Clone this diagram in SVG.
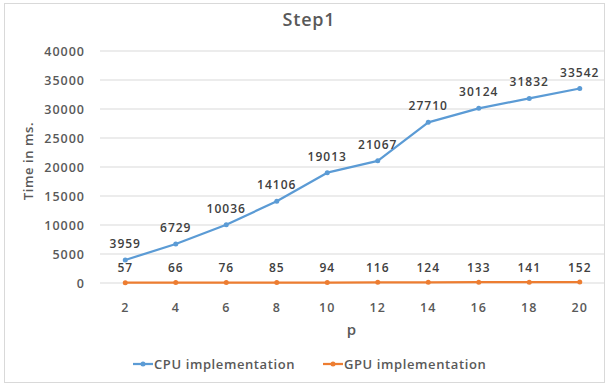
<svg xmlns="http://www.w3.org/2000/svg" width="607" height="387" viewBox="0 0 607 387">
<style>
text{font-family:"Open Sans","Liberation Sans",sans-serif;fill:#595959;letter-spacing:1px;font-weight:600}
.ax{font-size:12.5px;text-anchor:end}
.xl{font-size:12.5px;text-anchor:middle}
.dl{font-size:12px;text-anchor:middle;fill:#404040}
.lg{font-size:13px;letter-spacing:0.6px}
.grid line{stroke:#d9d9d9;stroke-width:1}
.cpu{fill:none;stroke:#5b9bd5;stroke-width:2.25;stroke-linejoin:round}
.gpu{fill:none;stroke:#ed7d31;stroke-width:2.25;stroke-linejoin:round}
.mc{fill:#5b9bd5}
.mg{fill:#ed7d31}
</style>
<rect x="0" y="0" width="607" height="387" fill="#ffffff"/>
<rect x="4.5" y="3.5" width="600" height="379" fill="#ffffff" stroke="#d9d9d9" stroke-width="1"/>
<g id="title"><text x="309" y="26" style="font-size:18px;text-anchor:middle;letter-spacing:0.8px">Step1</text></g>
<g id="grid" class="grid">
<line x1="100" y1="51" x2="604" y2="51"/>
<line x1="100" y1="80" x2="604" y2="80"/>
<line x1="100" y1="109" x2="604" y2="109"/>
<line x1="100" y1="138" x2="604" y2="138"/>
<line x1="100" y1="167" x2="604" y2="167"/>
<line x1="100" y1="196" x2="604" y2="196"/>
<line x1="100" y1="225" x2="604" y2="225"/>
<line x1="100" y1="254" x2="604" y2="254"/>
<line x1="100" y1="283" x2="604" y2="283"/>
</g>
<g id="y-axis">
<text class="ax" x="85" y="55.5">40000</text>
<text class="ax" x="85" y="84.5">35000</text>
<text class="ax" x="85" y="113.5">30000</text>
<text class="ax" x="85" y="142.5">25000</text>
<text class="ax" x="85" y="171.5">20000</text>
<text class="ax" x="85" y="200.5">15000</text>
<text class="ax" x="85" y="229.5">10000</text>
<text class="ax" x="85" y="258.5">5000</text>
<text class="ax" x="85" y="287.5">0</text>
<text x="33" y="161" transform="rotate(-90 33 161)" style="font-size:13px;text-anchor:middle;letter-spacing:0.6px">Time in ms.</text>
</g>
<g id="x-axis">
<text class="xl" x="125.25" y="312">2</text>
<text class="xl" x="175.75" y="312">4</text>
<text class="xl" x="226.25" y="312">6</text>
<text class="xl" x="276.75" y="312">8</text>
<text class="xl" x="327.25" y="312">10</text>
<text class="xl" x="377.75" y="312">12</text>
<text class="xl" x="428.25" y="312">14</text>
<text class="xl" x="478.75" y="312">16</text>
<text class="xl" x="529.25" y="312">18</text>
<text class="xl" x="579.75" y="312">20</text>
<text x="352" y="335" style="font-size:15px;text-anchor:middle">p</text>
</g>
<g id="connectors">
<polyline class="gpu" points="125.25,282.7 175.75,282.6 226.25,282.6 276.75,282.5 327.25,282.5 377.75,282.3 428.25,282.3 478.75,282.2 529.25,282.2 579.75,282.1"/>
<polyline class="cpu" points="125.25,260 175.75,244 226.25,224.8 276.75,201.2 327.25,172.7 377.75,160.8 428.25,122.3 478.75,108.3 529.25,98.4 579.75,88.5"/>
</g>
<g id="gpu-series">
<g class="mg">
<circle cx="125.25" cy="282.7" r="2.5"/><circle cx="175.75" cy="282.6" r="2.5"/><circle cx="226.25" cy="282.6" r="2.5"/><circle cx="276.75" cy="282.5" r="2.5"/><circle cx="327.25" cy="282.5" r="2.5"/><circle cx="377.75" cy="282.3" r="2.5"/><circle cx="428.25" cy="282.3" r="2.5"/><circle cx="478.75" cy="282.2" r="2.5"/><circle cx="529.25" cy="282.2" r="2.5"/><circle cx="579.75" cy="282.1" r="2.5"/>
</g>
<text class="dl" x="125.25" y="272">57</text>
<text class="dl" x="175.75" y="272">66</text>
<text class="dl" x="226.25" y="272">76</text>
<text class="dl" x="276.75" y="272">85</text>
<text class="dl" x="327.25" y="272">94</text>
<text class="dl" x="377.75" y="272">116</text>
<text class="dl" x="428.25" y="272">124</text>
<text class="dl" x="478.75" y="272">133</text>
<text class="dl" x="529.25" y="272">141</text>
<text class="dl" x="579.75" y="272">152</text>
</g>
<g id="cpu-series">
<g class="mc">
<circle cx="125.25" cy="260" r="2.5"/><circle cx="175.75" cy="244" r="2.5"/><circle cx="226.25" cy="224.8" r="2.5"/><circle cx="276.75" cy="201.2" r="2.5"/><circle cx="327.25" cy="172.7" r="2.5"/><circle cx="377.75" cy="160.8" r="2.5"/><circle cx="428.25" cy="122.3" r="2.5"/><circle cx="478.75" cy="108.3" r="2.5"/><circle cx="529.25" cy="98.4" r="2.5"/><circle cx="579.75" cy="88.5" r="2.5"/>
</g>
<text class="dl" x="125.25" y="248">3959</text>
<text class="dl" x="175.75" y="232">6729</text>
<text class="dl" x="226.25" y="212.8">10036</text>
<text class="dl" x="276.75" y="189.2">14106</text>
<text class="dl" x="327.25" y="160.7">19013</text>
<text class="dl" x="377.75" y="148.8">21067</text>
<text class="dl" x="428.25" y="110.3">27710</text>
<text class="dl" x="478.75" y="96.3">30124</text>
<text class="dl" x="529.25" y="86.4">31832</text>
<text class="dl" x="579.75" y="76.5">33542</text>
</g>
<g id="legend">
<line x1="133" y1="364" x2="153" y2="364" class="cpu"/>
<circle cx="143" cy="364" r="2.5" class="mc"/>
<text class="lg" x="154" y="369">CPU implementation</text>
<line x1="323" y1="364" x2="343" y2="364" class="gpu"/>
<circle cx="333" cy="364" r="2.5" class="mg"/>
<text class="lg" x="344" y="369">GPU implementation</text>
</g>
</svg>
